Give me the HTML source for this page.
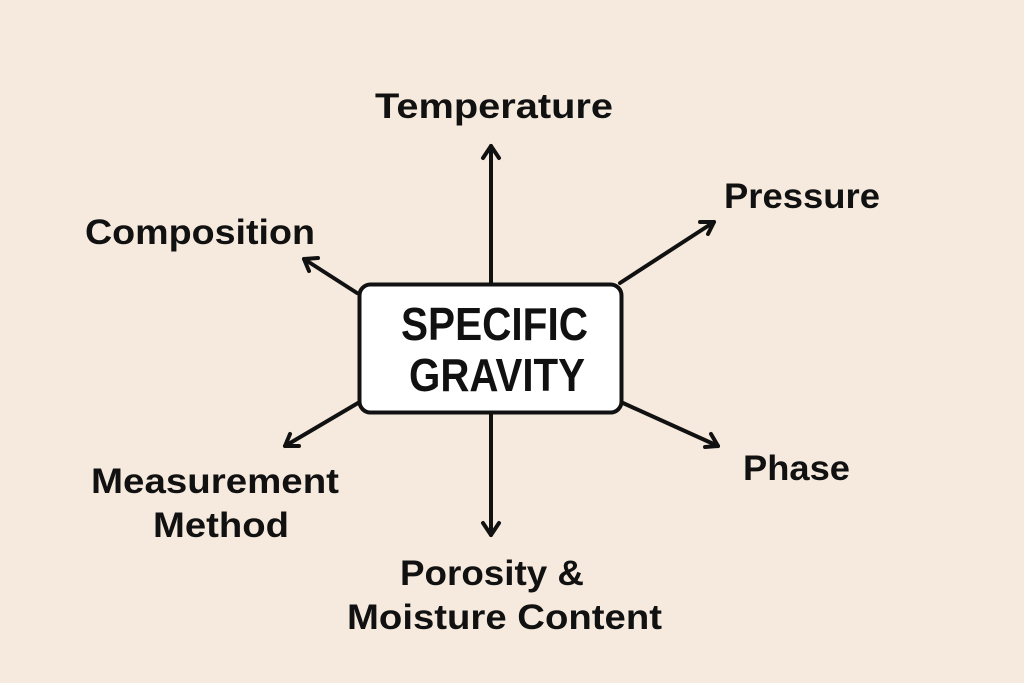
<!DOCTYPE html>
<html><head><meta charset="utf-8"><style>
html,body{margin:0;padding:0;background:#f5eadd;}
svg{display:block;}
text{font-family:"Liberation Sans",sans-serif;font-weight:bold;fill:#111;}
</style></head><body>
<svg width="1024" height="683" viewBox="0 0 1024 683">
<rect width="1024" height="683" fill="#f5eadd"/>
<g stroke="#111" stroke-width="4" fill="none" stroke-linecap="round" stroke-linejoin="round">
<line x1="491" y1="283" x2="491" y2="146"/><polyline points="483,158 491,146 499,158"/>
<line x1="620" y1="283" x2="714" y2="222"/><polyline points="700,222 714,222 708,234"/>
<line x1="357" y1="293" x2="304" y2="259"/><polyline points="318,258 304,259 309,271"/>
<line x1="358" y1="403" x2="285" y2="446"/><polyline points="290,434 285,446 299,446"/>
<line x1="491" y1="413" x2="491" y2="535"/><polyline points="483,523 491,535 499,523"/>
<line x1="623" y1="403" x2="718" y2="446"/><polyline points="705,447 718,446 711,434"/>
</g>
<rect x="359.5" y="284.5" width="262" height="128" rx="11" fill="#fff" stroke="#111" stroke-width="4"/>
<text x="401" y="340" font-size="46" textLength="187" lengthAdjust="spacingAndGlyphs">SPECIFIC</text>
<text x="409" y="391" font-size="46" textLength="176" lengthAdjust="spacingAndGlyphs">GRAVITY</text>
<text x="375" y="118" font-size="35" textLength="238" lengthAdjust="spacingAndGlyphs">Temperature</text>
<text x="724" y="208" font-size="35" textLength="156" lengthAdjust="spacingAndGlyphs">Pressure</text>
<text x="85" y="244" font-size="35" textLength="230" lengthAdjust="spacingAndGlyphs">Composition</text>
<text x="743" y="480" font-size="35" textLength="107" lengthAdjust="spacingAndGlyphs">Phase</text>
<text x="91" y="493" font-size="35" textLength="248" lengthAdjust="spacingAndGlyphs">Measurement</text>
<text x="153" y="537" font-size="35" textLength="136" lengthAdjust="spacingAndGlyphs">Method</text>
<text x="400" y="585" font-size="35" textLength="184" lengthAdjust="spacingAndGlyphs">Porosity &amp;</text>
<text x="347" y="629" font-size="35" textLength="315" lengthAdjust="spacingAndGlyphs">Moisture Content</text>
</svg>
</body></html>
